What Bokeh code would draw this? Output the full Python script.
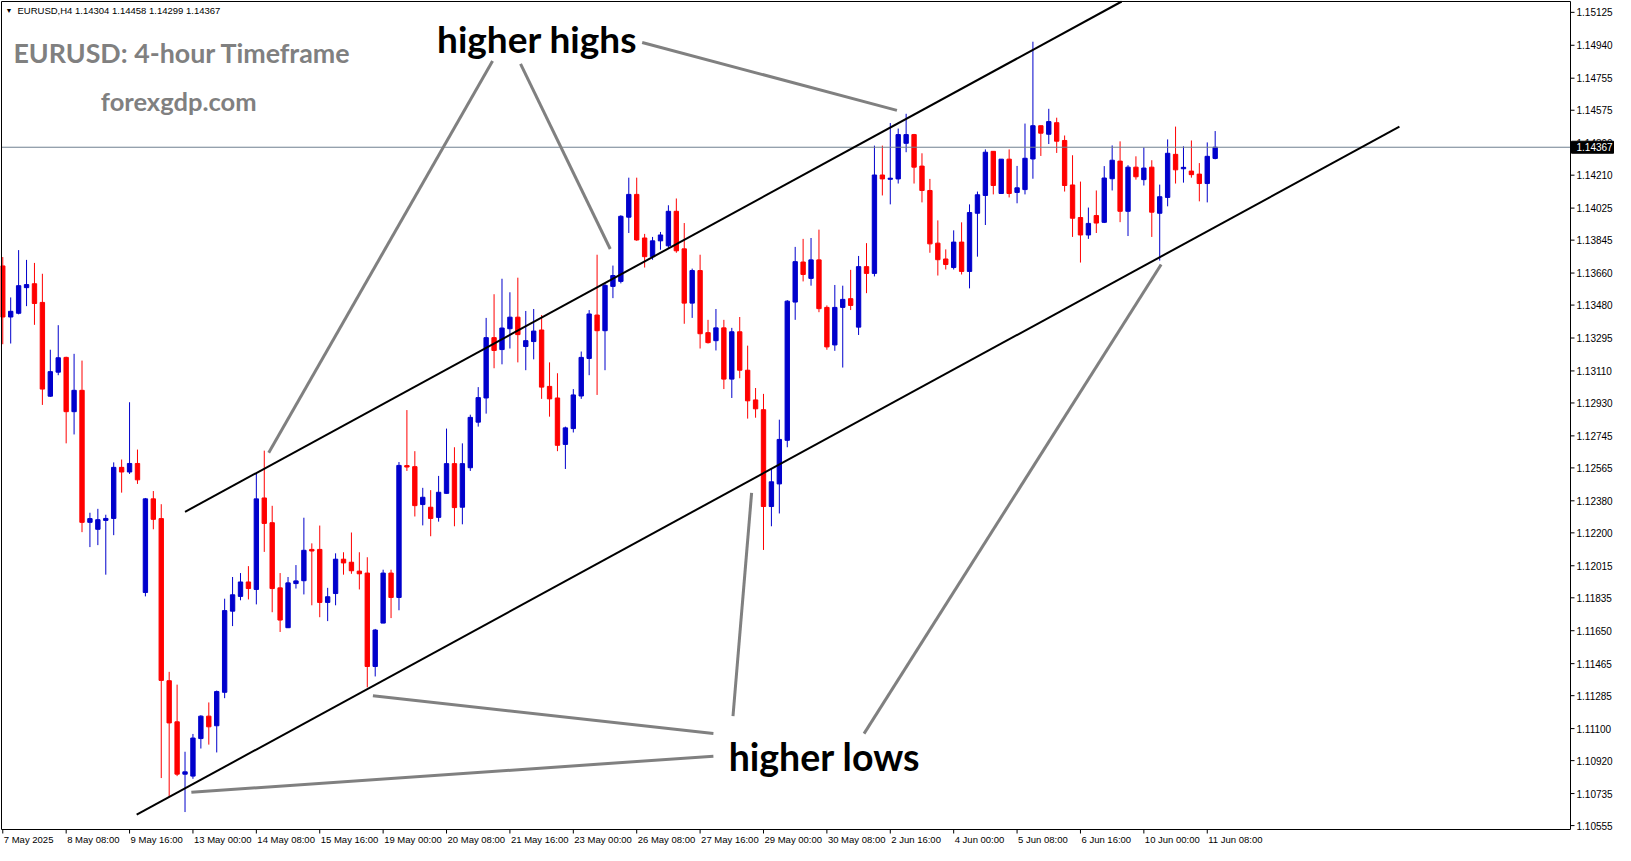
from bokeh.plotting import figure
from bokeh.models import Range1d, Label, ColumnDataSource
from bokeh.embed import file_html
from bokeh.resources import INLINE
from bokeh.core.properties import value

# ---- EURUSD H4 candles (7 May 2025 00:00 .. 11 Jun 2025 12:00) ----
opens = [1.13700, 1.13413, 1.13434, 1.13578, 1.13600, 1.13495, 1.12968, 1.13103, 1.13186, 1.12881,
         1.13001, 1.12259, 1.12220, 1.12270, 1.12281, 1.12568, 1.12542, 1.12590, 1.11865, 1.12391,
         1.12280, 1.11369, 1.11138, 1.10844, 1.10833, 1.11044, 1.11170, 1.11116, 1.11304, 1.11760,
         1.11843, 1.11924, 1.11882, 1.12396, 1.12257, 1.11891, 1.11667, 1.11915, 1.11931, 1.12107,
         1.12107, 1.11809, 1.11859, 1.12052, 1.12035, 1.11985, 1.11974, 1.11449, 1.11693, 1.11974,
         1.11837, 1.12578, 1.12572, 1.12359, 1.12344, 1.12287, 1.12422, 1.12589, 1.12344, 1.12566,
         1.12822, 1.12958, 1.13297, 1.13230, 1.13347, 1.13412, 1.13247, 1.13275, 1.13340, 1.13023,
         1.12958, 1.12697, 1.12786, 1.12969, 1.13180, 1.13424, 1.13336, 1.13585, 1.13613, 1.13974,
         1.14102, 1.13857, 1.13752, 1.13841, 1.13813, 1.14007, 1.13796, 1.13491, 1.13674, 1.13325,
         1.13280, 1.13352, 1.13064, 1.13330, 1.13114, 1.12947, 1.12892, 1.12348, 1.12475, 1.12720,
         1.13497, 1.13722, 1.13630, 1.13734, 1.13467, 1.13256, 1.13467, 1.13516, 1.13356, 1.13696,
         1.13658, 1.14211, 1.14187, 1.14189, 1.14389, 1.14438, 1.14261, 1.14124, 1.13828, 1.13739,
         1.13691, 1.13834, 1.13669, 1.13996, 1.14096, 1.14344, 1.14107, 1.14300, 1.14113, 1.14129,
         1.14301, 1.14488, 1.14440, 1.14505, 1.14405, 1.14155, 1.13972, 1.13874, 1.13983, 1.13945,
         1.14190, 1.14289, 1.14007, 1.14255, 1.14185, 1.14255, 1.13996, 1.14085, 1.14327, 1.14246,
         1.14233, 1.14216, 1.14163, 1.14304]
highs = [1.13750, 1.13523, 1.13789, 1.13734, 1.13717, 1.13656, 1.13229, 1.13367, 1.13190, 1.13206,
         1.13168, 1.12313, 1.12335, 1.12302, 1.12596, 1.12612, 1.12934, 1.12668, 1.12396, 1.12435,
         1.12361, 1.11419, 1.11347, 1.10970, 1.11070, 1.11175, 1.11247, 1.11314, 1.11830, 1.11952,
         1.11974, 1.12013, 1.12535, 1.12662, 1.12352, 1.11974, 1.11952, 1.12019, 1.12285, 1.12141,
         1.12241, 1.11891, 1.12085, 1.12091, 1.12202, 1.12091, 1.12063, 1.11660, 1.11993, 1.11993,
         1.12598, 1.12890, 1.12659, 1.12453, 1.12440, 1.12520, 1.12786, 1.12681, 1.12703, 1.12864,
         1.13019, 1.13408, 1.13541, 1.13628, 1.13552, 1.13634, 1.13447, 1.13458, 1.13424, 1.13158,
         1.13097, 1.12797, 1.13008, 1.13219, 1.13452, 1.13763, 1.13602, 1.13702, 1.13985, 1.14196,
         1.14196, 1.13880, 1.13863, 1.13891, 1.14041, 1.14079, 1.13941, 1.13685, 1.13763, 1.13397,
         1.13458, 1.13397, 1.13352, 1.13413, 1.13252, 1.13014, 1.12981, 1.12559, 1.12836, 1.13508,
         1.13807, 1.13852, 1.13857, 1.13904, 1.13478, 1.13593, 1.13589, 1.13678, 1.13756, 1.13828,
         1.14376, 1.14376, 1.14503, 1.14472, 1.14555, 1.14442, 1.14333, 1.14189, 1.13956, 1.13793,
         1.13900, 1.13945, 1.14046, 1.14118, 1.14355, 1.14344, 1.14300, 1.14355, 1.14262, 1.14500,
         1.14960, 1.14488, 1.14583, 1.14533, 1.14433, 1.14322, 1.14174, 1.14028, 1.14124, 1.14261,
         1.14377, 1.14400, 1.14266, 1.14316, 1.14366, 1.14294, 1.14157, 1.14411, 1.14483, 1.14372,
         1.14405, 1.14278, 1.14394, 1.14458]
lows = [1.13260, 1.13264, 1.13428, 1.13474, 1.13369, 1.12919, 1.12964, 1.13086, 1.12703, 1.12753,
        1.12204, 1.12120, 1.12131, 1.11965, 1.12187, 1.12426, 1.12531, 1.12475, 1.11843, 1.12220,
        1.10822, 1.10714, 1.10833, 1.10631, 1.10818, 1.10988, 1.11010, 1.10966, 1.11271, 1.11676,
        1.11821, 1.11826, 1.11798, 1.12093, 1.11754, 1.11643, 1.11665, 1.11887, 1.11854, 1.11793,
        1.11726, 1.11704, 1.11793, 1.11965, 1.11970, 1.11882, 1.11332, 1.11393, 1.11693, 1.11721,
        1.11765, 1.12548, 1.12292, 1.12242, 1.12181, 1.12263, 1.12420, 1.12237, 1.12248, 1.12548,
        1.12797, 1.12870, 1.13125, 1.13147, 1.13236, 1.13158, 1.13114, 1.13175, 1.12953, 1.12853,
        1.12659, 1.12559, 1.12764, 1.12953, 1.13086, 1.12975, 1.13114, 1.13519, 1.13602, 1.13885,
        1.13841, 1.13691, 1.13735, 1.13791, 1.13802, 1.13774, 1.13375, 1.13408, 1.13236, 1.13264,
        1.13225, 1.13008, 1.12958, 1.13069, 1.12842, 1.12847, 1.12104, 1.12237, 1.12309, 1.12681,
        1.13397, 1.13613, 1.13589, 1.13440, 1.13229, 1.13223, 1.13129, 1.13452, 1.13312, 1.13547,
        1.13641, 1.14096, 1.14046, 1.14163, 1.14339, 1.14163, 1.14057, 1.13774, 1.13646, 1.13680,
        1.13680, 1.13652, 1.13574, 1.13752, 1.13930, 1.14102, 1.14107, 1.14085, 1.14052, 1.14102,
        1.14190, 1.14318, 1.14385, 1.14335, 1.14118, 1.13863, 1.13719, 1.13852, 1.13885, 1.13941,
        1.14124, 1.13946, 1.13868, 1.14185, 1.14152, 1.13863, 1.13730, 1.14035, 1.14163, 1.14168,
        1.14196, 1.14063, 1.14057, 1.14299]
closes = [1.13413, 1.13445, 1.13589, 1.13595, 1.13489, 1.13008, 1.13106, 1.13184, 1.12881, 1.13001,
          1.12259, 1.12280, 1.12274, 1.12281, 1.12568, 1.12542, 1.12590, 1.12498, 1.12391, 1.12276,
          1.11371, 1.11132, 1.10844, 1.10857, 1.11047, 1.11170, 1.11110, 1.11308, 1.11763, 1.11852,
          1.11924, 1.11887, 1.12391, 1.12253, 1.11887, 1.11710, 1.11919, 1.11930, 1.12102, 1.12098,
          1.11809, 1.11841, 1.12052, 1.12031, 1.11987, 1.11970, 1.11449, 1.11654, 1.11974, 1.11837,
          1.12579, 1.12570, 1.12353, 1.12400, 1.12281, 1.12428, 1.12589, 1.12342, 1.12589, 1.12849,
          1.12960, 1.13297, 1.13225, 1.13351, 1.13412, 1.13314, 1.13280, 1.13334, 1.13019, 1.12953,
          1.12692, 1.12790, 1.12975, 1.13186, 1.13430, 1.13336, 1.13591, 1.13646, 1.13979, 1.14102,
          1.13846, 1.13752, 1.13841, 1.13874, 1.14007, 1.13785, 1.13491, 1.13674, 1.13319, 1.13269,
          1.13352, 1.13064, 1.13330, 1.13114, 1.12942, 1.12897, 1.12348, 1.12487, 1.12725, 1.13502,
          1.13724, 1.13652, 1.13734, 1.13460, 1.13245, 1.13467, 1.13512, 1.13478, 1.13696, 1.13658,
          1.14211, 1.14189, 1.14193, 1.14438, 1.14438, 1.14255, 1.14124, 1.13824, 1.13735, 1.13708,
          1.13834, 1.13669, 1.14000, 1.14100, 1.14339, 1.14152, 1.14300, 1.14107, 1.14139, 1.14305,
          1.14488, 1.14446, 1.14511, 1.14401, 1.14152, 1.13968, 1.13874, 1.13939, 1.13941, 1.14194,
          1.14294, 1.14007, 1.14255, 1.14201, 1.14250, 1.14002, 1.14089, 1.14333, 1.14240, 1.14254,
          1.14213, 1.14163, 1.14316, 1.14367]

# time-scale labels (one every 8 bars) and price-scale labels
time_tick_bars = [0, 8, 16, 24, 32, 40, 48, 56, 64, 72, 80, 88, 96, 104, 112, 120, 128, 136, 144, 152]
time_tick_labels = ["7 May 2025", "8 May 08:00", "9 May 16:00", "13 May 00:00", "14 May 08:00",
                    "15 May 16:00", "19 May 00:00", "20 May 08:00", "21 May 16:00", "23 May 00:00",
                    "26 May 08:00", "27 May 16:00", "29 May 00:00", "30 May 08:00", "2 Jun 16:00",
                    "4 Jun 00:00", "5 Jun 08:00", "6 Jun 16:00", "10 Jun 00:00", "11 Jun 08:00"]
price_ticks = [1.15125, 1.14940, 1.14755, 1.14575, 1.14390, 1.14210, 1.14025, 1.13845, 1.13660,
               1.13480, 1.13295, 1.13110, 1.12930, 1.12745, 1.12565, 1.12380, 1.12200, 1.12015,
               1.11835, 1.11650, 1.11465, 1.11285, 1.11100, 1.10920, 1.10735, 1.10555]
last_price = 1.14367

# channel lines (bar index, price)
upper_x = [23.0, 141.2]
upper_y = [1.12318, 1.15186]
lower_x = [16.9, 176.25]
lower_y = [1.10616, 1.14483]

# pointer lines for the annotations (bar index, price)
ptr_x0 = [61.81, 65.34, 80.69, 89.68, 89.68, 92.15, 108.69]
ptr_y0 = [1.14852, 1.14835, 1.14956, 1.11072, 1.10945, 1.11170, 1.11072]
ptr_x1 = [33.56, 76.66, 112.84, 46.71, 23.80, 94.50, 146.18]
ptr_y1 = [1.12650, 1.13795, 1.14574, 1.11285, 1.10742, 1.12424, 1.13708]

BULL = "#0000cc"
BEAR = "#ff0000"
GRAY = "#808080"
AX_FONT = "Liberation Sans"
BIG = "Lato"

n = len(opens)
xs = list(range(n))
colors = [BULL if c >= o else BEAR for o, c in zip(opens, closes)]
tops = [max(o, c) for o, c in zip(opens, closes)]
bots = [min(o, c) for o, c in zip(opens, closes)]
src = ColumnDataSource(dict(x=xs, h=highs, l=lows, top=tops, bottom=bots, color=colors))

# layout: one frame covering the whole canvas; chart area, price scale and time scale inside it
W, H = 1615, 845
CHART_W, CHART_H = 1569, 828      # chart box size in pixels (starts 1px from top-left)
X0, XB = -0.16, 197.84            # chart area in bar units
XPX = (XB - X0) / CHART_W         # one pixel in bar units
Y0, Y1 = 1.10533, 1.15186         # chart area in price units
YPX = (Y1 - Y0) / CHART_H         # one pixel in price units

p = figure(width=W, height=H,
           x_range=Range1d(X0 - XPX, X0 + (W - 1) * XPX),
           y_range=Range1d(Y0 - (H - 1 - CHART_H) * YPX, Y1 + YPX),
           output_backend="svg", toolbar_location=None,
           x_axis_location=None, y_axis_location=None,
           min_border_left=0, min_border_right=0, min_border_top=0, min_border_bottom=0)
p.grid.visible = False
p.outline_line_color = None
p.background_fill_color = "white"
p.border_fill_color = "white"

# candles
p.segment(x0="x", y0="l", x1="x", y1="h", line_color="color", line_width=1, source=src)
p.vbar(x="x", top="top", bottom="bottom", width=0.55, fill_color="color",
       line_color="color", line_width=1, source=src)

# last price line
p.segment(x0=[X0], y0=[last_price], x1=[XB], y1=[last_price], line_color="#708090", line_width=1)

# channel
p.line(upper_x, upper_y, line_color="black", line_width=2)
p.line(lower_x, lower_y, line_color="black", line_width=2)

# pointers
p.segment(x0=ptr_x0, y0=ptr_y0, x1=ptr_x1, y1=ptr_y1, line_color=GRAY, line_width=3)

# white mask above the chart box (keeps the channel line inside it)
p.quad(left=[X0 - XPX], right=[X0 + (W - 1) * XPX], bottom=[Y1], top=[Y1 + YPX],
       fill_color="white", line_color=None)

# chart border
p.line([X0, XB, XB, X0, X0], [Y0, Y0, Y1, Y1, Y0], line_color="black", line_width=1)

# price scale
nt = len(price_ticks)
p.segment(x0=[XB] * nt, y0=price_ticks, x1=[XB + 4 * XPX] * nt, y1=price_ticks,
          line_color="black", line_width=1)
p.text(x=[XB + 6 * XPX] * nt, y=price_ticks, text=[f"{t:.5f}" for t in price_ticks],
       text_font=value(AX_FONT), text_font_size="10px", text_color="black",
       text_baseline="middle", text_align="left")
p.quad(left=[XB + 1 * XPX], right=[XB + 43 * XPX], bottom=[last_price - 6 * YPX],
       top=[last_price + 6 * YPX], fill_color="black", line_color="black")
p.text(x=[XB + 6 * XPX], y=[last_price], text=[f"{last_price:.5f}"], text_font=value(AX_FONT),
       text_font_size="10px", text_color="white", text_baseline="middle", text_align="left")

# time scale
ntt = len(time_tick_bars)
p.segment(x0=time_tick_bars, y0=[Y0] * ntt, x1=time_tick_bars, y1=[Y0 - 4 * YPX] * ntt,
          line_color="black", line_width=1)
p.text(x=[b + 1 * XPX for b in time_tick_bars], y=[Y0 - 10 * YPX] * ntt, text=time_tick_labels,
       text_font=value(AX_FONT), text_font_size="9.5px", text_color="black",
       text_baseline="middle", text_align="left")

# annotation texts
p.add_layout(Label(x=54.8, y=1.14979, text="higher highs", text_font=BIG, text_font_style="bold",
                   text_font_size="37px", text_color="black", text_baseline="middle", text_align="left"))
p.add_layout(Label(x=91.6, y=1.10942, text="higher lows", text_font=BIG, text_font_style="bold",
                   text_font_size="37.5px", text_color="black", text_baseline="middle", text_align="left"))
p.add_layout(Label(x=1.34, y=1.14897, text="EURUSD: 4-hour Timeframe", text_font=BIG,
                   text_font_style="bold", text_font_size="26.8px", text_color=GRAY,
                   text_baseline="middle", text_align="left"))
p.add_layout(Label(x=12.375, y=1.14625, text="forexgdp.com", text_font=BIG, text_font_style="bold",
                   text_font_size="25.5px", text_color=GRAY, text_baseline="middle", text_align="left"))

# header line
p.add_layout(Label(x=X0, y=Y1, x_offset=4, y_offset=-9, text="\u25BC", text_font=AX_FONT,
                   text_font_size="7px", text_color="black", text_baseline="middle", text_align="left"))
p.add_layout(Label(x=X0, y=Y1, x_offset=16, y_offset=-9,
                   text="EURUSD,H4  1.14304 1.14458 1.14299 1.14367", text_font=AX_FONT,
                   text_font_size="9.5px", text_color="black", text_baseline="middle", text_align="left"))

open("out.html", "w").write(file_html(p, INLINE))
